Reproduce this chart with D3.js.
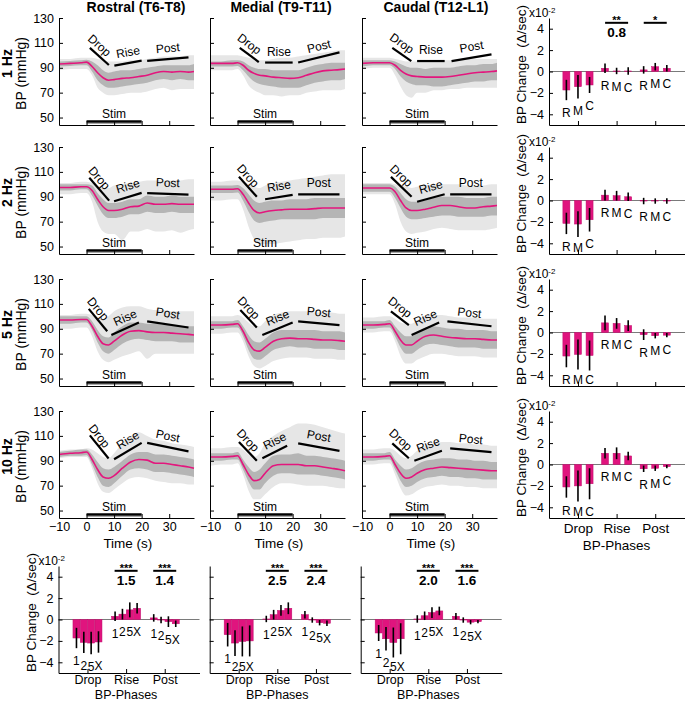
<!DOCTYPE html>
<html><head><meta charset="utf-8">
<script src="https://cdn.jsdelivr.net/npm/d3@7"></script>
<style>body{margin:0;background:#fff}svg{display:block}</style>
</head><body><svg id="c" width="685" height="702"></svg>
<script>
// ---------------- DATA ----------------
const regions = ["Rostral (T6-T8)", "Medial (T9-T11)", "Caudal (T12-L1)"];
const regionCodes = ["R", "M", "C"];
const freqs = ["1 Hz", "2 Hz", "5 Hz", "10 Hz"];
const freqCodes = ["1", "2", "5", "X"];
const phases = ["Drop", "Rise", "Post"];
const bpTicks = [50, 70, 90, 110, 130];
const timeTicks = [-10, 0, 10, 20, 30];
const changeTicks = [-4, -2, 0, 2, 4];
const timeS = [-10, -6, -2, 0, 2, 4, 6, 8, 10, 13, 16, 19, 22, 25, 28, 31, 34, 37, 39];

// [freq][region][time]  mean BP (mmHg)
const meanBP = [
 [[93,93.5,94,94.5,91,86,82,80,80.5,81.5,82,83,84,86,87,86.5,87,86.5,87],
  [93.5,93.5,93.5,94,92,88,85.5,84,83.5,82.5,82,81.5,82,84,86,87.5,88,88.5,89],
  [93.5,94,94,94,92,88,85,83.5,83,82.5,82.5,82.5,83,84,85,86,86.5,87,87.5]],
 [[97.5,97.5,98,98,95,88,82,79,79,80,82,82.5,85,84,84,84.5,84,84,84],
  [96,96,96,96.5,92,85,79,77,78,79,79.5,80,80,80,80.5,81,81,81,81],
  [97,97,97,97,94,87,81,79,79,80,81.5,83,83,82,81,81,82,82.5,83]],
 [[97,97,97.5,97.5,92,84,78,77,80,85,88,88.5,87.5,87,87,86.5,86,85.5,85],
  [93,93,93.5,94,88,79,73,72,75,80,82,82.5,82,82,81.5,81,81,80.5,80],
  [93,93,93.5,94,88,81,77,77,80,84,85,84,83,82.5,82,82,81.5,81,81]],
 [[95,96,96.5,97,91,83,77,76,78,84,89,91,90.5,88,88,87,86,85,84],
  [93,93,93.5,94,87,79,74,75,80,86,87,87,87,86,86,85,84,83,82],
  [93,93,93.5,94,87,80,76,77,80,83,84,85,84.5,84,83.5,83,82.5,82,82]]
];
// inner (dark) band
const innerLo = [
 [[91,91.5,92,92,87,80,76,74,74,75,76,77,78,80,81,80,81,80,80],
  [91,91,91,91.5,88,83,79,77,76,75,74,74,74,76,78,79,80,80,81],
  [91,92,92,92,89,83,79,77,76,76,75,75,76,77,78,79,79,80,80]],
 [[95,95,96,96,91,83,76,73,73,74,76,76,78,77,77,78,77,77,77],
  [93,93,93,93.5,87,78,71,69,70,71,72,72,72,72,72,73,73,73,73],
  [94,94,94,94,89,81,74,72,72,73,74,75,75,74,74,74,74,75,75]],
 [[94,94,95,95,89,79,72,70,73,78,81,82,81,80,80,80,79,79,79],
  [90,90,91,91,84,73,66,65,68,73,75,76,75,75,74,74,74,73,73],
  [90,90,91,91,84,75,70,70,73,77,78,77,76,75,75,75,74,74,74]],
 [[93,94,94,94.5,87,77,70,69,72,78,83,84,83,81,81,80,79,78,77],
  [90,90,91,91,83,73,67,67,72,78,80,80,79,79,79,78,77,76,75],
  [90,90,91,91,83,74,69,70,73,76,77,78,77,77,76,76,75,75,75]]
];
const innerHi = [
 [[95,95.5,96,96.5,95,92,88,86,87,88,88,89,90,91,92,92,92,92,93],
  [95,95,96,96,95,92,90,89,89,88,88,88,88,90,92,93,94,94,94],
  [96,96,96,96,95,93,91,90,90,89,90,90,90,91,92,92,93,93,94]],
 [[100,100,100,100,99,93,88,85,85,86,88,88,91,90,90,91,90,90,90],
  [99,99,99,99.5,97,92,87,85,86,87,87,88,88,88,89,89,89,89,89],
  [100,100,100,100,98,93,88,86,86,87,89,90,90,90,89,89,89,90,90]],
 [[100,100,100,100,96,89,84,83,87,92,95,95,94,94,93,93,92,92,92],
  [96,96,96,97,92,85,80,79,82,87,89,89,89,89,89,88,88,88,87],
  [96,96,96,97,92,87,84,84,87,91,92,91,90,90,89,89,89,88,88]],
 [[97,98,99,99,95,89,84,83,85,90,95,97,97,95,95,94,93,92,91],
  [96,96,96,97,91,85,81,83,88,94,95,95,96,94,94,93,92,91,90],
  [96,96,96,97,91,86,83,84,87,90,91,92,92,91,91,90,90,89,89]]
];
// outer (light) band
const outerLo = [
 [[88,89,89,89,84,74,70,68,68,69,70,70,71,73,74,72,73,73,73],
  [88,88,88,89,84,76,72,70,68,68,67,68,68,70,71,72,72,72,73],
  [89,90,90,90,84,75,68,66,70,70,72,72,73,73,74,74,74,74,74]],
 [[92,92,93,93,86,70,62,60,60,55,62,62,64,62,62,63,61,63,64],
  [87,87,88,88,80,66,56,52,52,52,53,54,55,56,56,57,57,57,58],
  [92,92,92,92,84,70,62,60,61,62,64,65,64,63,63,63,63,64,65]],
 [[90,90,91,91,84,72,65,63,65,68,70,72,66,70,70,70,70,70,70],
  [86,86,87,87,80,68,60,58,60,64,66,67,67,67,66,66,66,65,65],
  [87,87,88,88,80,68,62,62,65,68,70,70,69,68,68,68,67,67,67]],
 [[92,93,93,93,84,72,65,64,67,72,76,77,76,74,73,72,72,71,71],
  [86,87,87,88,79,66,59,59,63,69,72,72,71,70,70,70,69,68,68],
  [87,87,88,88,79,68,62,63,66,69,70,71,70,70,69,69,68,68,68]]
];
const outerHi = [
 [[97,97,98,98,98,97,96,95,95,95,96,96,97,98,99,99,99,100,100],
  [100,100,100,100,99,98,97,96,96,97,98,98,99,100,101,102,103,104,104],
  [98,98,98,98,97,96,95,95,95,95,95,96,96,96,97,97,97,97,97]],
 [[101,101,102,102,101,99,97,97,99,100,101,102,103,103,103,103,103,104,104],
  [102,102,103,103,102,100,98,97,99,101,102,103,104,105,106,107,108,108,108],
  [101,101,101,101,100,99,98,97,98,99,100,100,100,100,99,99,99,100,100]],
 [[101,101,102,102,101,99,98,100,104,107,108,108,106,105,105,104,104,104,104],
  [100,100,100,101,99,95,92,92,96,101,103,104,104,104,103,103,103,102,102],
  [99,99,100,100,98,95,94,94,97,100,101,101,100,99,99,99,98,98,98]],
 [[98,99,99,100,99,96,93,92,96,104,110,113,110,107,106,104,103,102,101],
  [100,100,101,101,99,95,93,96,104,110,114,117,120,120,119,117,115,113,112],
  [99,99,100,100,98,94,92,94,98,102,104,105,105,104,104,103,103,102,102]]
];
// phase marker segments [t1, bp1, t2, bp2] for Drop, Rise, Post   [freq][region][phase]
const phaseSegs = [
 [[[1.2,106,8.1,92.2],[10.1,91.7,20,95.7],[22,95.5,37,98.4]],
  [[0.8,106,7.7,94.6],[10,94.2,20,94.2],[22,94.2,37,102.4]],
  [[1,106,7.9,95.4],[10,95.4,20,95.4],[22.5,95.4,37,100.8]]],
 [[[1,105.3,8.2,86.9],[10,86.4,20,93.1],[22,93,37,91.8]],
  [[0.5,106,7,90],[10,88,20,91.5],[22,92,37,92]],
  [[0.5,106,8,90],[10,86,20,92],[22,92,37,92]]],
 [[[0.8,106,7.5,88],[9,85,19,95],[22,96,37,91]],
  [[1,105,7,91],[9,85,20,95],[22,96,37,93]],
  [[0.5,104,7,93],[8,85,18,95],[21,96,37,92]]],
 [[[1.2,110.4,8,91.8],[10,91.2,20,104.4],[22,104.4,37,97.6]],
  [[0.5,105,7,90],[9,92,18,102],[22,104,37,98]],
  [[1,104,7,92],[9,90,19,98],[22,100,37,97]]]
];
const stimPeriod = [0, 20];

// BP change rate (x10^-2 Δ/sec)  [freq][region][phase]
const slopeMean = [
 [[-1.73,0.3,0.15],[-1.42,0.05,0.45],[-1.26,0.05,0.3]],
 [[-2.14,0.5,-0.05],[-2.2,0.45,-0.05],[-1.8,0.35,-0.05]],
 [[-2.2,0.9,-0.2],[-2.05,0.85,-0.3],[-2.15,0.65,-0.25]],
 [[-2.1,1.05,-0.4],[-2.0,1.05,-0.35],[-1.8,0.8,-0.2]]
];
const slopeErr = [
 [[0.95,0.45,0.35],[1.1,0.3,0.35],[0.75,0.35,0.3]],
 [[1.0,0.5,0.3],[1.2,0.45,0.25],[1.1,0.4,0.25]],
 [[1.05,0.7,0.5],[1.4,0.5,0.25],[1.4,0.5,0.2]],
 [[1.0,0.5,0.3],[1.45,0.55,0.25],[1.45,0.4,0.15]]
];
// significance: across regions (1 Hz row) and across frequencies (per region)
const sigRegionPhase = ["Rise", "Post"];
const sigRegionStars = ["**", "*"];
const sigRegionRatio = ["0.8", ""];
const sigFreqPhase = ["Rise", "Post"];
const sigFreqStars = [["***", "***"], ["***", "***"], ["***", "***"]];
const sigFreqRatio = [["1.5", "1.4"], ["2.5", "2.4"], ["2.0", "1.6"]];

// ---------------- LAYOUT ----------------
const FONT = "'Liberation Sans', Arial, Helvetica, sans-serif";
const pink = "#e3167d";
const barPink = "#e0147e";
const lightGray = "#e6e6e6";
const darkGray = "#b5b5b5";
const colL = [59, 210, 362], lineW = 135;
const rowB = [125, 254, 386, 518], panelH = 107;
const rightL = 549, barW = 141;
const botB = 673, botL = [58.5, 209.7, 360.7];
const svg = d3.select("#c");

function styleAxis(g, fs) {
  g.attr("font-family", FONT).attr("font-size", fs);
  g.selectAll("line").attr("stroke", "#000");
  g.selectAll("path").attr("stroke", "#000");
  g.selectAll("text").attr("fill", "#000");
}
function txt(g, s, x, y, fs, opts = {}) {
  const t = g.append("text").attr("x", x).attr("y", y).attr("font-family", FONT)
    .attr("font-size", fs).attr("text-anchor", opts.anchor || "middle").attr("fill", "#000").text(s);
  if (opts.bold) t.attr("font-weight", "bold");
  if (opts.transform) t.attr("transform", opts.transform);
  return t;
}

// titles
const titleX = [136, 281, 436];
regions.forEach((s, c) => txt(svg, s, titleX[c], 12, 14, {bold: true}));

// ---------------- LINE PANELS ----------------
function linePanel(r, c) {
  const L = colL[c], B = rowB[r];
  const x = d3.scaleLinear([-10, 39], [L, L + lineW]);
  const y = d3.scaleLinear([44, 130], [B, B - panelH]);
  const g = svg.append("g");
  const idx = timeS.map((t, i) => i);
  const area = (lo, hi) => d3.area().x(i => x(timeS[i])).y0(i => y(lo[i])).y1(i => y(hi[i])).curve(d3.curveMonotoneX)(idx);
  g.append("path").attr("d", area(outerLo[r][c], outerHi[r][c])).attr("fill", lightGray);
  g.append("path").attr("d", area(innerLo[r][c], innerHi[r][c])).attr("fill", darkGray);
  g.append("path").attr("d", d3.line().x(i => x(timeS[i])).y(i => y(meanBP[r][c][i])).curve(d3.curveMonotoneX)(idx))
    .attr("fill", "none").attr("stroke", pink).attr("stroke-width", 1.6);
  // stim bar
  g.append("line").attr("x1", x(stimPeriod[0])).attr("x2", x(stimPeriod[1])).attr("y1", y(45.3)).attr("y2", y(45.3))
    .attr("stroke", "#9a9a9a").attr("stroke-width", 1);
  g.append("line").attr("x1", x(stimPeriod[0])).attr("x2", x(stimPeriod[1])).attr("y1", y(46.8)).attr("y2", y(46.8))
    .attr("stroke", "#000").attr("stroke-width", 2.4);
  txt(g, "Stim", x((stimPeriod[0] + stimPeriod[1]) / 2), y(46.8) - 3.5, 12);
  // phase markers (text placed ~11px straight above the segment midpoint, rotated along it)
  phaseSegs[r][c].forEach((s, p) => {
    const x1 = x(s[0]), y1 = y(s[1]), x2 = x(s[2]), y2 = y(s[3]);
    g.append("line").attr("x1", x1).attr("y1", y1).attr("x2", x2).attr("y2", y2)
      .attr("stroke", "#000").attr("stroke-width", 2.2);
    const th = Math.atan2(y2 - y1, x2 - x1);
    const mx = (x1 + x2) / 2, my = (y1 + y2) / 2;
    const u = -11 * Math.sin(th), v = -11 * Math.cos(th) + 4;
    txt(g, phases[p], u, v, 12, {transform: `translate(${mx},${my}) rotate(${th * 180 / Math.PI})`});
  });
  // axes
  const ya = d3.axisLeft(y).tickValues(bpTicks).tickSizeInner(-4).tickSizeOuter(0).tickPadding(5);
  if (c > 0) ya.tickFormat("");
  g.append("g").attr("transform", `translate(${L},0)`).call(ya).call(styleAxis, 12.5);
  const xa = d3.axisBottom(x).tickValues(timeTicks).tickSizeInner(-4).tickSizeOuter(0).tickPadding(4);
  if (r < 3) xa.tickFormat("");
  g.append("g").attr("transform", `translate(0,${B})`).call(xa).call(styleAxis, 12.5);
  if (r === 3) txt(g, "Time (s)", x(15), B + 29.5, 13.5);
  if (c === 0) {
    const cy = B - panelH / 2;
    txt(g, freqs[r], 0, 0, 14, {bold: true, transform: `translate(12,${cy - 8}) rotate(-90)`});
    txt(g, "BP (mmHg)", 0, 0, 14, {transform: `translate(26,${cy + 2}) rotate(-90)`});
  }
}
for (let r = 0; r < 4; r++) for (let c = 0; c < 3; c++) linePanel(r, c);

// ---------------- BAR PANELS ----------------
function barPanel(L, B, vals, errs, codes, offs, showY, showX, xLab, sig) {
  const x = d3.scaleLinear([0.25, 3.9], [L, L + barW]);
  const y = d3.scaleLinear([-5, 5], [B, B - panelH]);
  const g = svg.append("g");
  g.append("line").attr("x1", L).attr("x2", L + barW).attr("y1", y(0)).attr("y2", y(0))
    .attr("stroke", "#7a7a7a").attr("stroke-width", 1);
  const bw = 7;
  phases.forEach((ph, p) => {
    codes.forEach((code, k) => {
      const v = vals[k][p], e = errs[k][p];
      const cx = x(p + 1 + offs[k]);
      g.append("rect").attr("x", cx - bw / 2).attr("width", bw)
        .attr("y", Math.min(y(0), y(v))).attr("height", Math.abs(y(v) - y(0)))
        .attr("fill", barPink).attr("stroke", "#c00d6c").attr("stroke-width", 0.5);
      g.append("line").attr("x1", cx).attr("x2", cx).attr("y1", y(v - e)).attr("y2", y(v + e))
        .attr("stroke", "#000").attr("stroke-width", 1.6);
      const lo = Math.min(v - e, v, 0.05);
      txt(g, code, cx, y(Math.max(lo - 1.2, -4.4)), 12).attr("dominant-baseline", "central");
    });
  });
  if (sig) {
    sig.phase.forEach((ph, i) => {
      const cx = x(phases.indexOf(ph) + 1);
      const ly = y(4.55);
      g.append("line").attr("x1", cx - 11.5).attr("x2", cx + 11.5).attr("y1", ly).attr("y2", ly)
        .attr("stroke", "#000").attr("stroke-width", 2);
      txt(g, sig.stars[i], cx, ly + 1, 11, {bold: true});
      if (sig.ratio[i]) txt(g, sig.ratio[i], cx, ly + 14.5, 13.5, {bold: true});
    });
  }
  const ya = d3.axisLeft(y).tickValues(changeTicks).tickSizeInner(-4).tickSizeOuter(0).tickPadding(5);
  if (!showY) ya.tickFormat("");
  g.append("g").attr("transform", `translate(${L},0)`).call(ya).call(styleAxis, 12.5);
  const xa = d3.axisBottom(x).tickValues([1, 2, 3]).tickSizeInner(-4).tickSizeOuter(0).tickPadding(xLab.pad)
    .tickFormat(showX ? (d => phases[d - 1]) : "");
  g.append("g").attr("transform", `translate(0,${B})`).call(xa).call(styleAxis, xLab.fs);
  if (showX) txt(g, "BP-Phases", x(2), B + xLab.title, xLab.fs);
  if (showY) {
    const t = txt(g, "x10", L - 20, B - panelH - 1.5, 12, {anchor: "start"});
    t.append("tspan").attr("dy", -4).attr("font-size", 8).text("-2");
    txt(g, "BP Change\u00a0\u00a0(\u0394/sec)", 0, 0, 13.5,
      {transform: `translate(${L - 23},${B - panelH / 2 - 7}) rotate(-90)`});
  }
}
// right column: regions compared at each frequency
for (let r = 0; r < 4; r++) {
  barPanel(rightL, rowB[r], slopeMean[r], slopeErr[r], regionCodes, [-0.3, 0, 0.3], true, r === 3,
    {pad: 5, fs: 13.5, title: 32},
    r === 0 ? {phase: sigRegionPhase, stars: sigRegionStars, ratio: sigRegionRatio} : null);
}
// bottom row: frequencies compared for each region
for (let c = 0; c < 3; c++) {
  const vals = slopeMean.map(f => f[c]);
  const errs = slopeErr.map(f => f[c]);
  barPanel(botL[c], botB, vals, errs, freqCodes, [-0.285, -0.095, 0.095, 0.285], c === 0, true,
    {pad: 2, fs: 12.5, title: 25.5},
    {phase: sigFreqPhase, stars: sigFreqStars[c], ratio: sigFreqRatio[c]});
}
</script></body></html>
